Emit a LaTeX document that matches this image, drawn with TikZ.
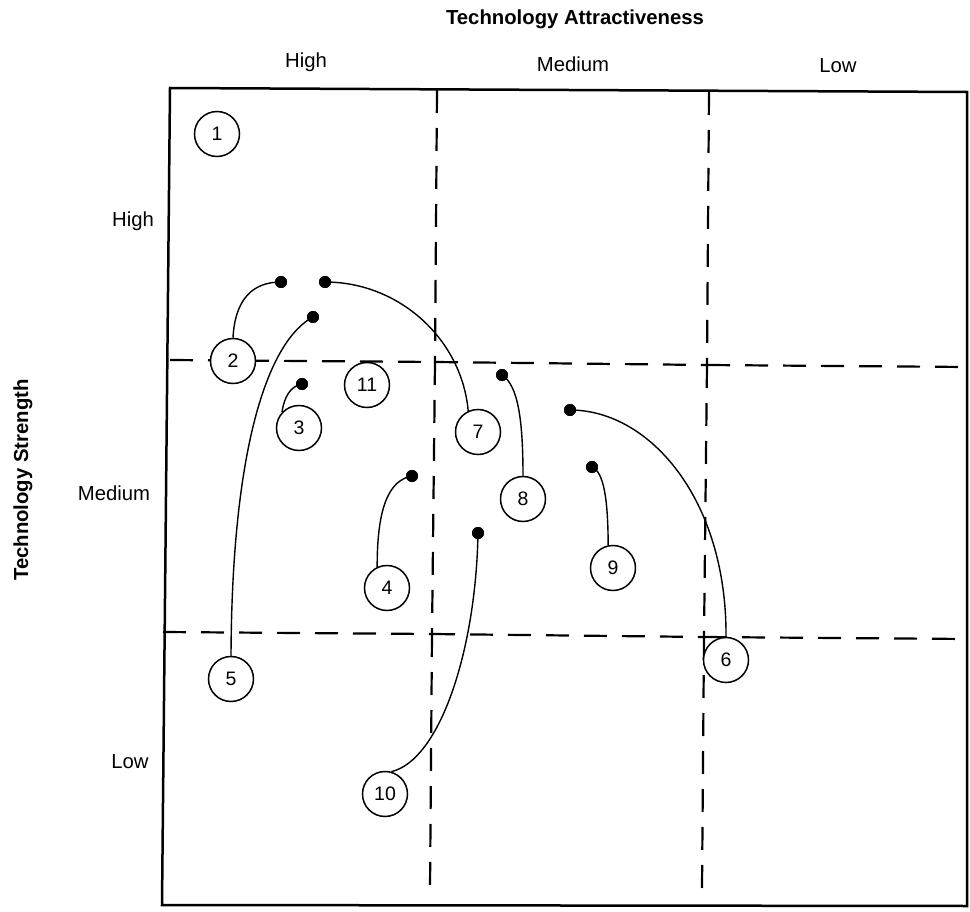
\documentclass[tikz,border=0pt]{standalone}
\usepackage{fontspec}
\setmainfont{Liberation Sans}
\begin{document}
\begin{tikzpicture}[x=1pt,y=-1pt,
  frame/.style={line width=2.5pt},
  grid/.style={line width=2.2pt, dash pattern=on 23pt off 15pt},
  item/.style={circle, draw, line width=1.5pt, fill=white, minimum size=45pt, inner sep=0pt, font=\fontsize{19.5}{20}\selectfont},
  dotmark/.style={circle, fill=black, minimum size=12pt, inner sep=0pt},
  link/.style={line width=1.4pt},
  lab/.style={font=\fontsize{20.3}{24}\selectfont, anchor=base},
  title/.style={font=\fontsize{20.3}{24}\selectfont\bfseries, anchor=base}]
\useasboundingbox (0,0) rectangle (970,912);
\fill[white] (0,0) rectangle (970,912);

% frame
\coordinate (tl) at (170,88);
\coordinate (tr) at (967,92);
\coordinate (br) at (967,906);
\coordinate (bl) at (162,905);
\draw[frame] (tl) -- (tr) -- (br) -- (bl) -- cycle;

% grid coordinates
\coordinate (v1t) at (437,90);
\coordinate (a1) at (435,362);
\coordinate (a2) at (432,634);
\coordinate (v1b) at (430,890);
\coordinate (v2t) at (709,92);
\coordinate (b1) at (707,365);
\coordinate (b2) at (704,637);
\coordinate (v2b) at (702,890);
\coordinate (h1l) at (170,360);
\coordinate (h1r) at (967,367);
\coordinate (h2l) at (163,632);
\coordinate (h2r) at (967,639);

\draw[grid] (v1t) -- (a1);
\draw[grid] (a1) -- (a2);
\draw[grid] (a2) -- (v1b);
\draw[grid] (v2t) -- (b1);
\draw[grid] (b1) -- (b2);
\draw[grid] (b2) -- (v2b);
\draw[grid] (h1l) -- (a1);
\draw[grid] (a1) -- (b1);
\draw[grid] (b1) -- (h1r);
\draw[grid] (h2l) -- (a2);
\draw[grid] (a2) -- (b2);
\draw[grid] (b2) -- (h2r);

% labels
\node[title] (tt) at (575,25) {Technology Attractiveness};
\node[lab] (th) at (306,68) {High};
\node[lab] (tm) at (573,72) {Medium};
\node[lab] (tlw) at (838,73) {Low};
\node[title, rotate=90] (ts) at (28,480) {Technology Strength};
\node[lab] (lh) at (133,227) {High};
\node[lab] (lm) at (114,500) {Medium};
\node[lab] (ll) at (130,768) {Low};

% dots
\node[dotmark] (d2) at (281,282) {};
\node[dotmark] (d7) at (325,282) {};
\node[dotmark] (d5) at (313,317) {};
\node[dotmark] (d3) at (302,384) {};
\node[dotmark] (d8) at (502,375) {};
\node[dotmark] (d6) at (570,410) {};
\node[dotmark] (d9) at (592,467) {};
\node[dotmark] (d4) at (412,476) {};
\node[dotmark] (d10) at (478,533) {};

% items
\node[item] (c1) at (217,134) {1};
\node[item] (c2) at (233,361) {2};
\node[item] (c11) at (367,385) {11};
\node[item] (c3) at (299,428) {3};
\node[item] (c7) at (478,432) {7};
\node[item] (c8) at (523,499) {8};
\node[item] (c4) at (387,588) {4};
\node[item] (c9) at (613,568) {9};
\node[item] (c5) at (231,679) {5};
\node[item] (c6) at (726,660) {6};
\node[item] (c10) at (385,794) {10};

% connectors
\draw[link] (d2.center) .. controls (252,282) and (235,300) .. (c2.north);
\draw[link] (d7.center) .. controls (400,282) and (462,340) .. (c7.115);
\draw[link] (d5.center) .. controls (270,340) and (232,440) .. (c5.north);
\draw[link] (d3.center) .. controls (290,386) and (284,398) .. (c3.137);
\draw[link] (d8.center) .. controls (518,385) and (523,420) .. (c8.north);
\draw[link] (d6.center) .. controls (650,410) and (727,500) .. (c6.north);
\draw[link] (d9.center) .. controls (604,472) and (608,500) .. (c9.102);
\draw[link] (d4.center) .. controls (390,480) and (377,505) .. (c4.115);
\draw[link] (d10.center) .. controls (476,650) and (440,760) .. (c10.74);

% redraw dots on top
\foreach \d in {d2,d7,d5,d3,d8,d6,d9,d4,d10}
  \fill (\d) circle (6pt);
\end{tikzpicture}
\end{document}
